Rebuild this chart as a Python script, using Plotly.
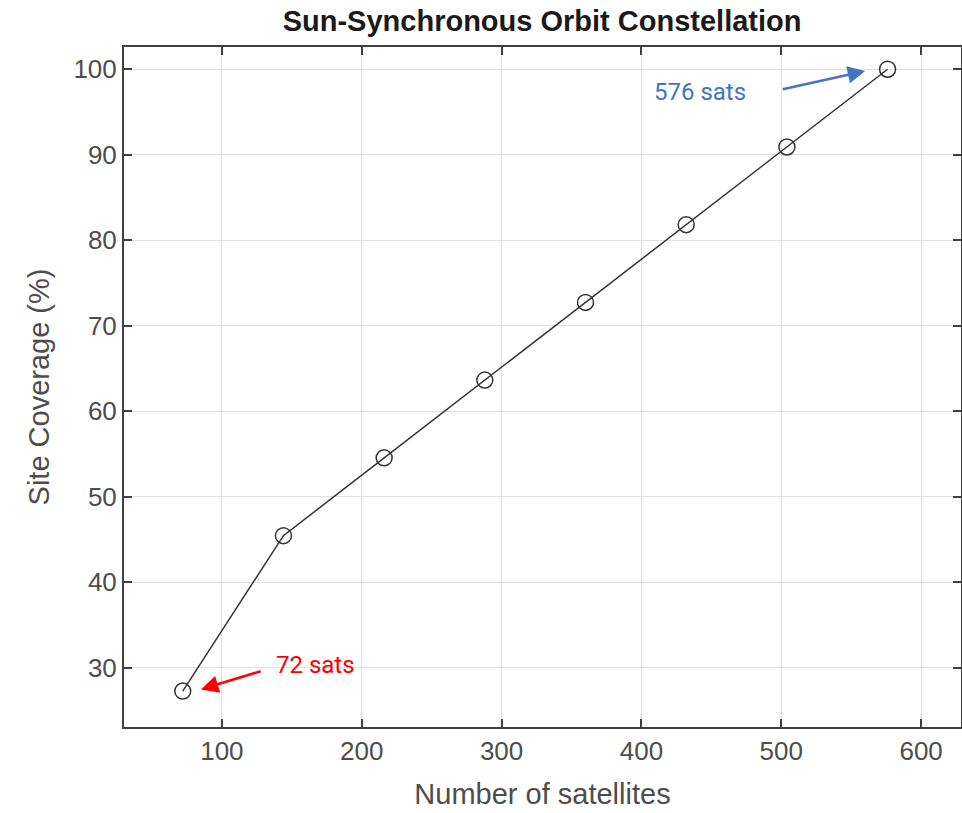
import plotly.graph_objects as go

sats = [72, 144, 216, 288, 360, 432, 504, 576]
coverage = [27.27, 45.45, 54.55, 63.64, 72.73, 81.82, 90.91, 100.0]
x_ticks = [100, 200, 300, 400, 500, 600]
y_ticks = [30, 40, 50, 60, 70, 80, 90, 100]

fig = go.Figure()
fig.add_trace(go.Scatter(
    x=sats, y=coverage, mode="lines+markers",
    line=dict(color="#333333", width=1.5),
    marker=dict(symbol="circle-open", size=16, color="#333333", line=dict(width=1.5)),
    showlegend=False,
))

axis_common = dict(
    showline=True, mirror="ticks", linecolor="#404040", linewidth=2,
    ticks="inside", ticklen=8, tickcolor="#404040", tickwidth=1.5,
    showgrid=True, gridcolor="#e0e0e0", gridwidth=1, zeroline=False,
    automargin=False,
    tickfont=dict(family="Liberation Sans, Arial", size=26, color="#4d4d4d"),
)

fig.update_layout(
    width=962, height=813,
    margin=dict(l=124, r=1, t=47, b=86),
    paper_bgcolor="white", plot_bgcolor="white",
    title=dict(text="<b>Sun-Synchronous Orbit Constellation</b>", x=0.5635, xanchor="center",
               y=1 - 21 / 813, yanchor="middle", automargin=False,
               font=dict(family="Liberation Sans, Arial", size=29, color="#1a1a1a")),
    xaxis=dict(range=[30, 628.5], tickvals=x_ticks,
               title=dict(text="Number of satellites", standoff=18,
                          font=dict(family="Liberation Sans, Arial", size=29, color="#4d4d4d")),
               **axis_common),
    yaxis=dict(range=[23.07, 102.6], tickvals=y_ticks,
               title=dict(text="Site Coverage (%)", standoff=15,
                          font=dict(family="Liberation Sans, Arial", size=29, color="#4d4d4d")),
               **axis_common),
)

# arrows
fig.add_annotation(x=85, y=27.47, ax=128.8, ay=29.65, xref="x", yref="y", axref="x", ayref="y",
                   text="", showarrow=True, arrowhead=2, arrowsize=1.4, arrowwidth=2.5,
                   arrowcolor="#ff0000")
fig.add_annotation(x=560, y=99.8, ax=500, ay=97.63, xref="x", yref="y", axref="x", ayref="y",
                   text="", showarrow=True, arrowhead=2, arrowsize=1.4, arrowwidth=2.5,
                   arrowcolor="#4472c4")
# labels
fig.add_annotation(x=166.6, y=30.3, xref="x", yref="y", text="72 sats", showarrow=False,
                   font=dict(family="Roboto", size=24, color="#ff0000"))
fig.add_annotation(x=441.8, y=97.3, xref="x", yref="y", text="576 sats", showarrow=False,
                   font=dict(family="Roboto", size=24, color="#4472c4"))

fig.write_html("out.html", config={"displayModeBar": False},
               post_script="document.body.style.margin='0';document.body.style.overflow='hidden';")
